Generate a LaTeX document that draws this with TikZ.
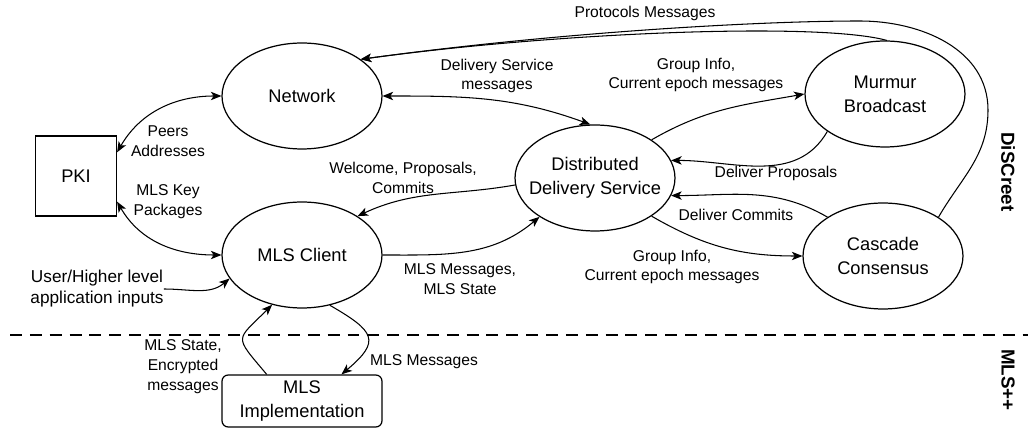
\documentclass[tikz,border=0pt]{standalone}
\usepackage{fontspec}
\setmainfont{Liberation Sans}
\usetikzlibrary{arrows.meta}
\usetikzlibrary{shapes.geometric}

\begin{document}
\begin{tikzpicture}[x=0.02cm, y=0.02cm,
  proc/.style={draw, ellipse, line width=0.7pt, minimum width=3.2cm, minimum height=2.12cm, inner sep=0pt, inner xsep=-6pt, align=center, font=\fontsize{10.4}{13.6}\selectfont},
  extbox/.style={draw, rectangle, line width=0.7pt, minimum width=1.62cm, minimum height=1.6cm, font=\fontsize{10.4}{13.6}\selectfont},
  implbox/.style={draw, rectangle, rounded corners=3.5pt, line width=0.7pt, minimum width=3.2cm, minimum height=1.04cm, inner sep=1pt, align=center, font=\fontsize{10.4}{13.6}\selectfont},
  lbl/.style={inner sep=0pt, align=center, font=\fontsize{8.9}{11.3}\selectfont},
  side/.style={rotate=-90, font=\fontsize{10.7}{12}\selectfont\bfseries},
  flow/.style={line width=0.6pt, -{Stealth[length=6pt,width=4.8pt,inset=1.6pt]}},
  flowboth/.style={line width=0.6pt, {Stealth[length=6pt,width=4.8pt,inset=1.6pt]}-{Stealth[length=6pt,width=4.8pt,inset=1.6pt]}}]

\useasboundingbox (0,0) rectangle (1028,-428);

\coordinate (sepL) at (10,-335);
\coordinate (sepR) at (1028,-335);

\node[extbox] (pki) at (76,-176) {PKI};
\node[proc] (net) at (302,-96) {Network};
\node[proc] (client) at (302,-255) {MLS Client};
\node[proc] (dds) at (595,-178) {Distributed\\Delivery Service};
\node[proc] (murmur) at (885,-94) {Murmur\\Broadcast};
\node[proc] (casc) at (883,-256) {Cascade\\Consensus};
\node[implbox] (impl) at (302,-401) {MLS\\Implementation};
\node[align=center, inner sep=0pt, font=\fontsize{9.8}{12}\selectfont] (user) at (97,-289) {User/Higher level\\application inputs};

\node[side] (discreet) at (1008,-172) {DiSCreet};
\node[side] (mlspp) at (1008,-380) {MLS++};

\draw[line width=0.6pt, dash pattern=on 6.8pt off 4.5pt] (sepL) -- (sepR);

\draw[flowboth] (pki.30) to[out=60,in=180] (net.west);
\draw[flowboth] (pki.-32) to[out=-60,in=180] (client.west);
\draw[flow] (user.east) to[out=0,in=220] (client.198);
\draw[flowboth] (net.east) to[out=0,in=160] (dds.95);

\draw[flow] (murmur.88) .. controls (820,-22) and (560,-32) .. (net.32);
\draw[flow] (casc.35) to[out=60,in=-90] (988,-110) to[out=90,in=0] (860,-21) .. controls (760,-21) and (560,-32) .. (net.32);

\draw[flow] (dds.34) to[out=30,in=190] (murmur.west);
\draw[flow] (murmur.213) to[out=240,in=0] (dds.13);
\draw[flow] (casc.145) to[out=150,in=0] (dds.-13);
\draw[flow] (dds.-34) to[out=-30,in=180] (casc.west);
\draw[flow] (dds.185) to[out=190,in=25] (client.35);
\draw[flow] (client.east) to[out=0,in=220] (dds.215);

\draw[flow] (impl.143) to[out=130,in=225,looseness=1.9] (client.239);
\draw[flow] (client.-61) to[out=-30,in=40,looseness=1.9] (impl.34);

\node[lbl] (lpeers) at (168,-141) {Peers\\Addresses};
\node[lbl] (lkeys) at (168,-202) {MLS Key\\Packages};
\node[lbl] (ldsmsg) at (497,-76) {Delivery Service\\messages};
\node[lbl] (lproto) at (645,-13) {Protocols Messages};
\node[lbl] (lgroupa) at (696,-75) {Group Info,\\Current epoch messages};
\node[lbl] (lprop) at (776,-173) {Deliver Proposals};
\node[lbl] (lcommit) at (736,-215) {Deliver Commits};
\node[lbl] (lgroupb) at (672,-267) {Group Info,\\Current epoch messages};
\node[lbl] (lwelcome) at (403,-178) {Welcome, Proposals,\\Commits};
\node[lbl] (lmlsmsg) at (460,-279) {MLS Messages,\\MLS State};
\node[lbl] (lstate) at (183,-367) {MLS State,\\Encrypted\\messages};
\node[lbl] (limplmsg) at (424,-362) {MLS Messages};
\end{tikzpicture}
\end{document}
